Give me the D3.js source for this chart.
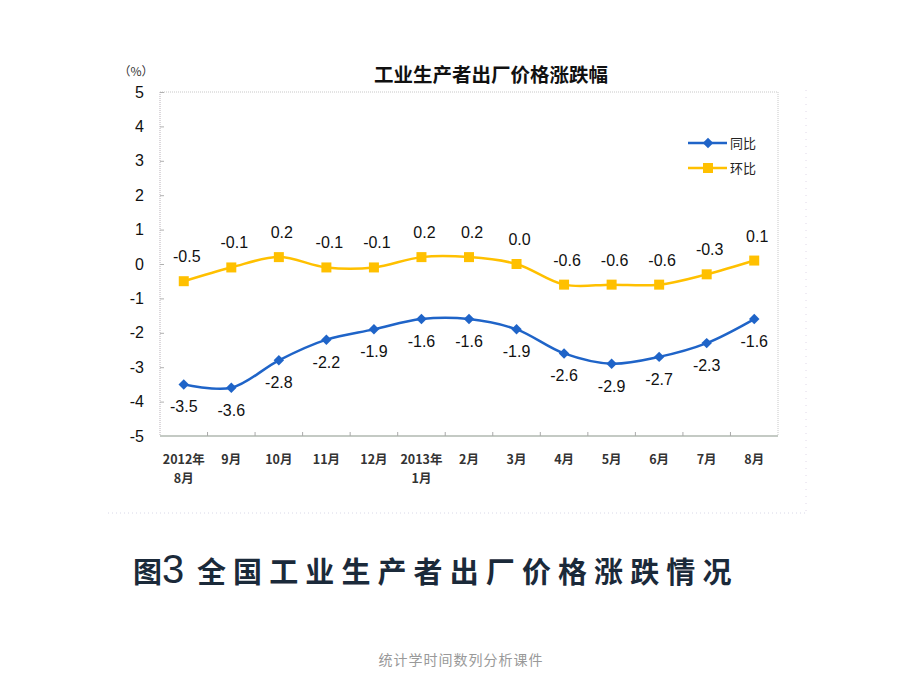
<!DOCTYPE html>
<html><head><meta charset="utf-8">
<script src="https://cdn.jsdelivr.net/npm/d3@7"></script>
<style>body{margin:0;background:#fff}svg{display:block}</style>
</head><body>
<script>
const categories = ["2012年\n8月","9月","10月","11月","12月","2013年\n1月","2月","3月","4月","5月","6月","7月","8月"];
const yoy = [-3.5,-3.6,-2.8,-2.2,-1.9,-1.6,-1.6,-1.9,-2.6,-2.9,-2.7,-2.3,-1.6];
const mom = [-0.5,-0.1,0.2,-0.1,-0.1,0.2,0.2,0.0,-0.6,-0.6,-0.6,-0.3,0.1];
const yTicks = [5,4,3,2,1,0,-1,-2,-3,-4,-5];
const seriesNames = ["同比","环比"];
const chartTitle = "工业生产者出厂价格涨跌幅";
const captionHead = "图";
const captionNum = "3";
const captionBody = "全国工业生产者出厂价格涨跌情况";
const footer = "统计学时间数列分析课件";

const W=920,H=690;
const svg=d3.select("body").append("svg").attr("width",W).attr("height",H);
const L=160,R=778,T=92,B=436;
const x=d3.scaleBand().domain(categories.map((d,i)=>i)).range([L,R]);
const y=d3.scaleLinear().domain([-5,5]).range([B,T]);
const cx=i=>x(i)+x.bandwidth()/2;
const f1=d=>d3.format(".1f")(d).replace("−","-");
const f0=d=>String(d);

// outer faint dotted frame
svg.append("line").attr("x1",108).attr("x2",806).attr("y1",513).attr("y2",513)
  .attr("stroke","#d8d8e8").attr("stroke-dasharray","1,3");
svg.append("line").attr("x1",806).attr("x2",806).attr("y1",90).attr("y2",513)
  .attr("stroke","#e0d8e8").attr("stroke-dasharray","1,6");

// plot frame
svg.append("line").attr("x1",L).attr("x2",R).attr("y1",T).attr("y2",T).attr("stroke","#c8c8c8").attr("stroke-dasharray","1,1");
svg.append("line").attr("x1",R).attr("x2",R).attr("y1",T).attr("y2",B).attr("stroke","#c8c8c8").attr("stroke-dasharray","1,1");
svg.append("line").attr("x1",L).attr("x2",L).attr("y1",T).attr("y2",B).attr("stroke","#b8b0b8").attr("stroke-dasharray","1,1");

// y axis
const yAxis=d3.axisLeft(y).tickValues(yTicks).tickSize(-4).tickPadding(16).tickFormat(f0);
const ya=svg.append("g").attr("transform",`translate(${L},0)`).call(yAxis);
ya.select(".domain").remove();
ya.selectAll(".tick line").attr("stroke","#b0b0b0");
ya.selectAll("text").attr("font-family","Liberation Sans, Arial, sans-serif").attr("font-size",16).attr("fill","#111");

// x axis
const xb=svg.append("g").attr("transform",`translate(0,${B})`);
xb.append("line").attr("x1",L).attr("x2",R).attr("stroke","#c4cac4").attr("stroke-width",2);
d3.range(1,categories.length).forEach(i=>{
  xb.append("line").attr("x1",x(i)).attr("x2",x(i)).attr("y1",0).attr("y2",-4).attr("stroke","#aaa");
});
categories.forEach((c,i)=>{
  const parts=c.split("\n");
  const t=xb.append("text").attr("text-anchor","middle").attr("font-family","Noto Sans CJK SC, sans-serif")
    .attr("font-size",12.5).attr("font-weight",700).attr("fill","#333");
  parts.forEach((p,k)=>t.append("tspan").attr("x",cx(i)).attr("y",28+k*19).text(p));
});

// title
svg.append("text").attr("x",491).attr("y",82).attr("text-anchor","middle")
  .attr("font-family","Noto Sans CJK SC, sans-serif").attr("font-weight",700).attr("font-size",19.5).attr("fill","#111").text(chartTitle);
svg.append("text").attr("x",136).attr("y",76).attr("text-anchor","middle")
  .attr("font-family","Noto Sans CJK SC, sans-serif").attr("font-size",12).attr("fill","#333").text("（%）");

const line=d3.line().x((d,i)=>cx(i)).y(d=>y(d)).curve(d3.curveCatmullRom.alpha(0.5));
const blue="#1f64c8", gold="#ffc000";

// mom series (gold)
svg.append("path").datum(mom).attr("d",line).attr("fill","none").attr("stroke",gold).attr("stroke-width",2.5);
svg.selectAll(".sq").data(mom).enter().append("rect")
  .attr("x",(d,i)=>cx(i)-5).attr("y",d=>y(d)-5).attr("width",10).attr("height",10).attr("fill",gold);
svg.selectAll(".lm").data(mom).enter().append("text")
  .attr("x",(d,i)=>cx(i)+3).attr("y",d=>y(d)-19).attr("text-anchor","middle")
  .attr("font-family","Liberation Sans, Arial, sans-serif").attr("font-size",16).attr("fill","#111")
  .text(f1);

// yoy series (blue)
svg.append("path").datum(yoy).attr("d",line).attr("fill","none").attr("stroke",blue).attr("stroke-width",2.5);
const dia=d3.symbol().type(d3.symbolDiamond2).size(70);
svg.selectAll(".dm").data(yoy).enter().append("path")
  .attr("transform",(d,i)=>`translate(${cx(i)},${y(d)})`).attr("d",dia).attr("fill",blue);
svg.selectAll(".ly").data(yoy).enter().append("text")
  .attr("x",(d,i)=>cx(i)).attr("y",d=>y(d)+28).attr("text-anchor","middle")
  .attr("font-family","Liberation Sans, Arial, sans-serif").attr("font-size",16).attr("fill","#111")
  .text(f1);

// legend
const lg=svg.append("g");
[[blue,"d"],[gold,"s"]].forEach(([c,m],k)=>{
  const yy=143+k*25;
  lg.append("line").attr("x1",688).attr("x2",727).attr("y1",yy).attr("y2",yy).attr("stroke",c).attr("stroke-width",2.5);
  if(m==="d") lg.append("path").attr("transform",`translate(708,${yy})`).attr("d",dia).attr("fill",c);
  else lg.append("rect").attr("x",703).attr("y",yy-5).attr("width",10).attr("height",10).attr("fill",c);
  lg.append("text").attr("x",730).attr("y",yy+5).attr("font-family","Noto Sans CJK SC, sans-serif")
    .attr("font-size",13).attr("fill","#222").text(seriesNames[k]);
});

// caption
const cap=svg.append("text").attr("y",583).attr("font-family","Noto Sans CJK SC, sans-serif")
  .attr("font-weight",700).attr("font-size",29).attr("fill","#1b2a3a");
cap.append("tspan").attr("x",133).text(captionHead);
cap.append("tspan").attr("x",162).attr("font-family","Liberation Sans, Arial, sans-serif").attr("font-weight",400).attr("font-size",40).text(captionNum);
cap.append("tspan").attr("x",197).attr("letter-spacing",7.1).text(captionBody);
svg.append("text").attr("x",461).attr("y",665).attr("text-anchor","middle").attr("font-family","Noto Sans CJK SC, sans-serif")
  .attr("font-size",14).attr("letter-spacing",1).attr("fill","#999").text(footer);
</script>
</body></html>
